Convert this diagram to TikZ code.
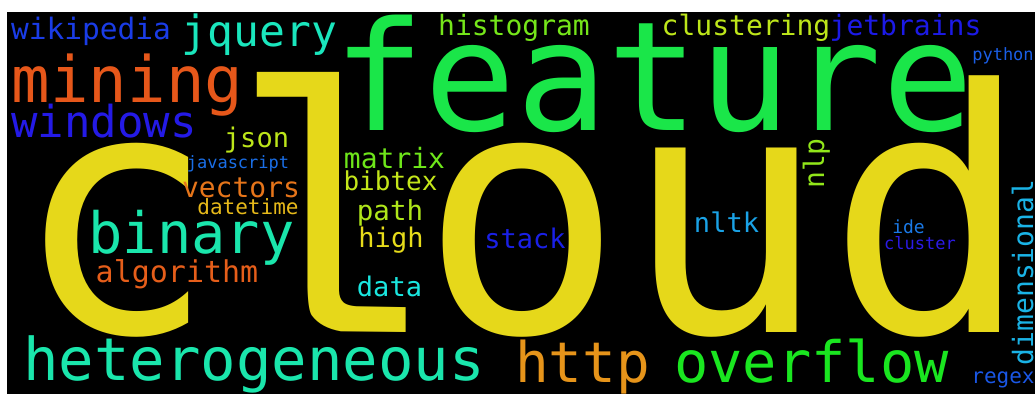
\documentclass[tikz,border=0pt]{standalone}
\usepackage{fontspec}
\newfontfamily\wcfont{DejaVu Sans Mono}
\newfontfamily\slabfont{Liberation Mono}
\newcommand\wsz[1]{\wcfont\fontsize{#1}{#1}\selectfont}

% word colours: hsl(hue, 80%, 50%)
\definecolor{cCloud}{RGB}{230,216,26}
\definecolor{cFeature}{RGB}{26,230,73}
\definecolor{cMining}{RGB}{230,87,26}
\definecolor{cWikipedia}{RGB}{26,60,230}
\definecolor{cJquery}{RGB}{26,230,189}
\definecolor{cWindows}{RGB}{36,26,230}
\definecolor{cBinary}{RGB}{26,230,172}
\definecolor{cAlgorithm}{RGB}{230,94,26}
\definecolor{cHetero}{RGB}{26,230,172}
\definecolor{cHttp}{RGB}{230,148,26}
\definecolor{cOverflow}{RGB}{26,230,32}
\definecolor{cDimensional}{RGB}{26,179,230}
\definecolor{cRegex}{RGB}{26,87,230}
\definecolor{cPython}{RGB}{26,94,230}
\definecolor{cIde}{RGB}{26,121,230}
\definecolor{cCluster}{RGB}{43,26,230}
\definecolor{cNlp}{RGB}{145,230,26}
\definecolor{cNltk}{RGB}{26,162,230}
\definecolor{cStack}{RGB}{26,32,230}
\definecolor{cData}{RGB}{26,230,223}
\definecolor{cHigh}{RGB}{230,219,26}
\definecolor{cPath}{RGB}{175,230,26}
\definecolor{cBibtex}{RGB}{196,230,26}
\definecolor{cMatrix}{RGB}{110,230,26}
\definecolor{cHistogram}{RGB}{117,230,26}
\definecolor{cClustering}{RGB}{189,230,26}
\definecolor{cJetbrains}{RGB}{28,26,230}
\definecolor{cJson}{RGB}{189,230,26}
\definecolor{cJavascript}{RGB}{26,110,230}
\definecolor{cVectors}{RGB}{230,117,26}
\definecolor{cDatetime}{RGB}{230,185,26}

\tikzset{
  word/.style n args={2}{inner sep=0pt, outer sep=0pt, anchor=base,
    text=#1, font=\wsz{#2}},
}

\begin{document}
\begin{tikzpicture}[x=1pt, y=-1pt]
  \useasboundingbox (0,0) rectangle (1035,394);
  \fill[white] (0,0) rectangle (1035,394);
  \fill[black] (7,12) rectangle (1035,394);

  % the big word, with a slab-footed l
  \node[word={cCloud}{338}] (cloud) at (522,332)
    {c\kern-6pt{\slabfont\fontsize{359}{359}\selectfont l}\kern-6pt oud};
  \node[word={cFeature}{152}]     (feature)     at (653.5,130) {feature};
  \node[word={cMining}{64}]       (mining)      at (127.5,102) {mining};
  \node[word={cWindows}{44}]      (windows)     at (104,137)   {windows};
  \node[word={cWikipedia}{29.5}]  (wikipedia)   at (91,39)     {wikipedia};
  \node[word={cJquery}{43}]       (jquery)      at (259.5,46)  {jquery};
  \node[word={cBinary}{57}]       (binary)      at (191.5,253) {binary};
  \node[word={cAlgorithm}{30}]    (algorithm)   at (177,282)   {algorithm};
  \node[word={cHetero}{59}]       (hetero)      at (254,380)   {heterogeneous};
  \node[word={cHttp}{56}]         (http)        at (582.5,382) {http};
  \node[word={cOverflow}{57}]     (overflow)    at (811.5,382) {overflow};
  \node[word={cDimensional}{28}, rotate=90] (dimensional) at (1033,272.5) {dimensional};
  \node[word={cRegex}{21}]        (regex)       at (1003,383)  {regex};
  \node[word={cPython}{17}]       (python)      at (1003,60)   {python};
  \node[word={cIde}{18}]          (ide)         at (908.5,233) {ide};
  \node[word={cCluster}{17}]      (cluster)     at (920,249)   {cluster};
  \node[word={cNlp}{28}, rotate=90] (nlp)       at (824,163.5) {nlp};
  \node[word={cNltk}{27}]         (nltk)        at (726.5,232) {nltk};
  \node[word={cStack}{27}]        (stack)       at (525,248)   {stack};
  \node[word={cData}{27}]         (data)        at (389.5,296) {data};
  \node[word={cHigh}{27}]         (high)        at (391,247)   {high};
  \node[word={cPath}{27.5}]       (path)        at (390,220)   {path};
  \node[word={cBibtex}{26}]       (bibtex)      at (390.5,190) {bibtex};
  \node[word={cMatrix}{28}]       (matrix)      at (394.5,168) {matrix};
  \node[word={cHistogram}{28}]    (histogram)   at (514,35)    {histogram};
  \node[word={cClustering}{28}]   (clustering)  at (746,35)    {clustering};
  \node[word={cJetbrains}{28}]    (jetbrains)   at (905.5,35)  {jetbrains};
  \node[word={cJson}{27}]         (json)        at (256.5,147) {json};
  \node[word={cJavascript}{17}]   (javascript)  at (238,168)   {javascript};
  \node[word={cVectors}{28}]      (vectors)     at (241,197)   {vectors};
  \node[word={cDatetime}{21}]     (datetime)    at (248,214)   {datetime};
\end{tikzpicture}
\end{document}
